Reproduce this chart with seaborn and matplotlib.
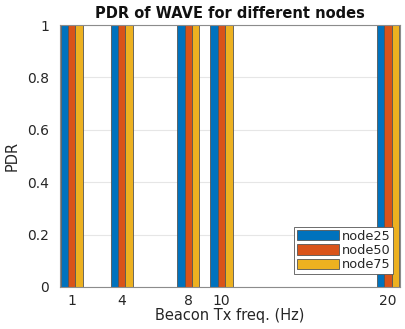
import matplotlib
matplotlib.use("Agg")
import matplotlib.pyplot as plt
import seaborn as sns
import pandas as pd

# Beacon transmission frequencies (Hz) and packet delivery ratio per node count
freqs = [1, 4, 8, 10, 20]
node_labels = ["node25", "node50", "node75"]
pdr_node25 = [1.0, 1.0, 1.0, 1.0, 1.0]
pdr_node50 = [1.0, 1.0, 1.0, 1.0, 1.0]
pdr_node75 = [1.0, 1.0, 1.0, 1.0, 1.0]
y_ticks = [0, 0.2, 0.4, 0.6, 0.8, 1]
y_tick_labels = ["0", "0.2", "0.4", "0.6", "0.8", "1"]

rows = []
for name, vals in zip(node_labels, [pdr_node25, pdr_node50, pdr_node75]):
    for f, v in zip(freqs, vals):
        rows.append({"freq": f, "pdr": v, "nodes": name})
df = pd.DataFrame(rows)

sns.set_theme(style="white")
plt.rcParams["font.family"] = ["DejaVu Sans"]

text_col = "#262626"
fig = plt.figure(figsize=(4.06, 3.29), dpi=100)
ax = fig.add_axes([0.148, 0.128, 0.837, 0.796])

palette = ["#0072BD", "#D95319", "#EDB120"]
sns.barplot(
    data=df, x="freq", y="pdr", hue="nodes", hue_order=node_labels,
    palette=palette, saturation=1, native_scale=True, width=0.667, gap=0.0,
    edgecolor="#555555", linewidth=0.6, errorbar=None, ax=ax, zorder=3,
)

ax.set_xlim(0.3, 20.72)
ax.set_ylim(0, 1)
ax.set_xticks(freqs)
ax.set_xticklabels([str(f) for f in freqs])
ax.set_yticks(y_ticks)
ax.set_yticklabels(y_tick_labels)

ax.yaxis.grid(True, color="#e6e6e6", linewidth=0.8, zorder=0)
ax.set_axisbelow(True)
for s in ax.spines.values():
    s.set_visible(True)
    s.set_color("#8c8c8c")
    s.set_linewidth(0.8)
    s.set_zorder(5)

ax.tick_params(direction="in", length=3, width=0.6, color="#555555",
               labelsize=10, labelcolor=text_col)
ax.tick_params(axis="y", pad=8)
ax.tick_params(axis="x", pad=5)

ax.set_xlabel("Beacon Tx freq. (Hz)", fontsize=10.5, color=text_col, labelpad=0)
ax.set_ylabel("PDR", fontsize=10.5, color=text_col, labelpad=5)
ax.set_title("PDR of WAVE for different nodes", fontsize=10.5,
             fontweight="bold", color="#111111", pad=5)

leg = ax.legend(loc="lower right", bbox_to_anchor=(0.98, 0.05),
                borderaxespad=0, fontsize=9.3, handlelength=3.3,
                handleheight=0.85, labelspacing=0.1, handletextpad=0.2,
                borderpad=0.2, frameon=True, fancybox=False,
                edgecolor="#555555", framealpha=1)
leg.get_frame().set_linewidth(0.6)
for t in leg.get_texts():
    t.set_color(text_col)

fig.savefig("out.png", dpi=100)
